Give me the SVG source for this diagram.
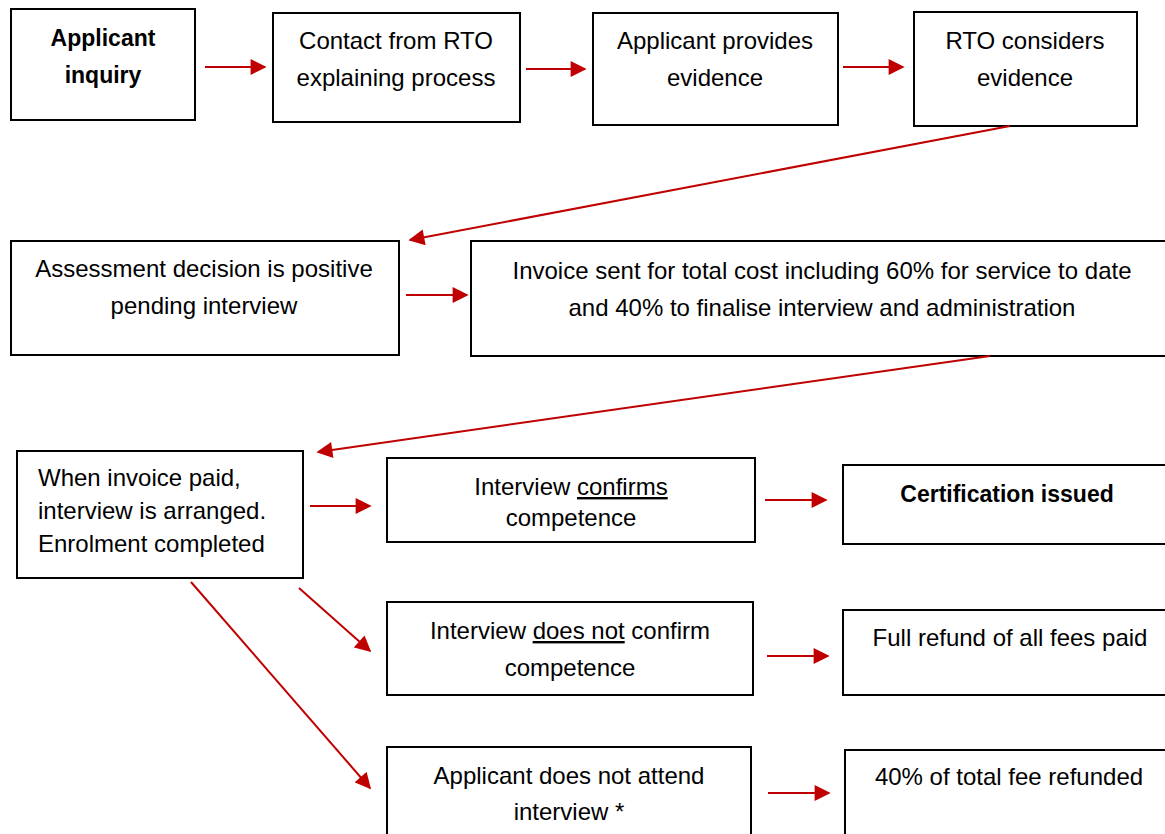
<svg xmlns="http://www.w3.org/2000/svg" width="1165" height="834" viewBox="0 0 1165 834">
<style>
.box{fill:#fff;stroke:#000;stroke-width:2}
.t{font-family:"Liberation Sans",Arial,sans-serif;font-size:24px;fill:#000;text-anchor:middle}
.l{text-anchor:start}
.b{font-weight:bold;font-size:23px}
.c{stroke:#c00000;stroke-width:2;fill:none;marker-end:url(#ah)}
.u{text-decoration:underline}
</style>
<defs>
<marker id="ah" viewBox="0 0 10 10" refX="9" refY="5" markerWidth="8.5" markerHeight="8" markerUnits="strokeWidth" orient="auto">
<path d="M0,0 L10,5 L0,10 z" fill="#c00000"/>
</marker>
</defs>
<rect width="1165" height="834" fill="#fff"/>
<g id="n1"><rect class="box" x="11" y="9" width="184" height="111"/><text class="t b" x="103" y="46">Applicant</text><text class="t b" x="103" y="83">inquiry</text></g>
<g id="n2"><rect class="box" x="273" y="13" width="247" height="109"/><text class="t" x="396" y="49">Contact from RTO</text><text class="t" x="396" y="86">explaining process</text></g>
<g id="n3"><rect class="box" x="593" y="13" width="245" height="112"/><text class="t" x="715" y="49">Applicant provides</text><text class="t" x="715" y="86">evidence</text></g>
<g id="n4"><rect class="box" x="914" y="12" width="223" height="114"/><text class="t" x="1025" y="49">RTO considers</text><text class="t" x="1025" y="86">evidence</text></g>
<g id="n5"><rect class="box" x="11" y="241" width="388" height="114"/><text class="t" x="204" y="277">Assessment decision is positive</text><text class="t" x="204" y="314">pending interview</text></g>
<g id="n6"><rect class="box" x="471" y="241" width="700" height="115"/><text class="t" x="822" y="279">Invoice sent for total cost including 60% for service to date</text><text class="t" x="822" y="316">and 40% to finalise interview and administration</text></g>
<g id="n7"><rect class="box" x="17" y="451" width="286" height="127"/><text class="t l" x="38" y="486">When invoice paid,</text><text class="t l" x="38" y="519">interview is arranged.</text><text class="t l" x="38" y="552">Enrolment completed</text></g>
<g id="n8"><rect class="box" x="387" y="458" width="368" height="84"/><text class="t" x="571" y="495">Interview <tspan class="u">confirms</tspan></text><text class="t" x="571" y="526">competence</text></g>
<g id="n9"><rect class="box" x="843" y="465" width="328" height="79"/><text class="t b" x="1007" y="502">Certification issued</text></g>
<g id="n10"><rect class="box" x="387" y="602" width="366" height="93"/><text class="t" x="570" y="639">Interview <tspan class="u">does not</tspan> confirm</text><text class="t" x="570" y="676">competence</text></g>
<g id="n11"><rect class="box" x="843" y="610" width="328" height="85"/><text class="t" x="1010" y="646">Full refund of all fees paid</text></g>
<g id="n12"><rect class="box" x="387" y="747" width="364" height="100"/><text class="t" x="569" y="784">Applicant does not attend</text><text class="t" x="569" y="820">interview *</text></g>
<g id="n13"><rect class="box" x="845" y="750" width="326" height="100"/><text class="t" x="1009" y="785">40% of total fee refunded</text></g>
<g id="connectors">
<line class="c" x1="205" y1="67" x2="265" y2="67"/>
<line class="c" x1="526" y1="69" x2="585" y2="69"/>
<line class="c" x1="843" y1="67" x2="903" y2="67"/>
<line class="c" x1="1010" y1="126" x2="410" y2="240"/>
<line class="c" x1="406" y1="295" x2="467" y2="295"/>
<line class="c" x1="990" y1="356" x2="318" y2="452"/>
<line class="c" x1="310" y1="506" x2="370" y2="506"/>
<line class="c" x1="765" y1="500" x2="826" y2="500"/>
<line class="c" x1="299" y1="588" x2="370" y2="651"/>
<line class="c" x1="767" y1="656" x2="828" y2="656"/>
<line class="c" x1="191" y1="582" x2="370" y2="788"/>
<line class="c" x1="768" y1="793" x2="829" y2="793"/>
</g>
</svg>
